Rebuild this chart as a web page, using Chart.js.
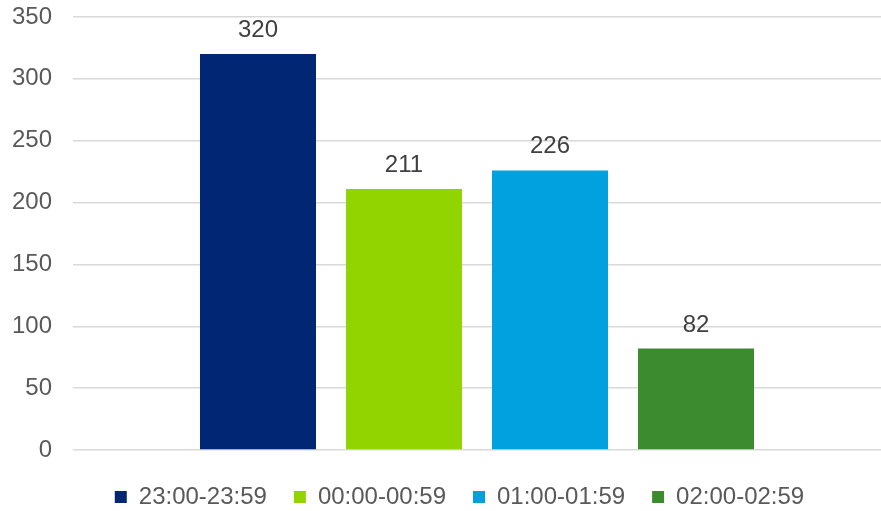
<!DOCTYPE html>
<html>
<head>
<meta charset="utf-8">
<script src="https://cdn.jsdelivr.net/npm/chart.js@4/dist/chart.umd.min.js"></script>
<style>
  body { margin: 0; background: #fff; }
  #wrap { width: 881px; height: 511px; }
</style>
</head>
<body>
<div id="wrap"><canvas id="barChart" width="881" height="511"></canvas></div>
<script>
// time slots and counts
var slots = ["23:00-23:59", "00:00-00:59", "01:00-01:59", "02:00-02:59"];
var counts = [320, 211, 226, 82];
var colors = ["#012774", "#92D400", "#00A1DE", "#3D8B2F"];
var yTicks = [0, 50, 100, 150, 200, 250, 300, 350];

var FONT = "'Liberation Sans', Arial, sans-serif";

// one dataset per slot, all in a single category
var datasets = slots.map(function (name, i) {
  return {
    label: name,
    data: [counts[i]],
    backgroundColor: colors[i],
    borderWidth: 0,
    categoryPercentage: 0.7228,
    barPercentage: 0.7945,
  };
});

// value above each bar
var valueLabels = {
  id: "valueLabels",
  afterDatasetsDraw: function (chart) {
    var ctx = chart.ctx;
    ctx.save();
    ctx.font = "24px " + FONT;
    ctx.fillStyle = "#404040";
    ctx.textAlign = "center";
    ctx.textBaseline = "alphabetic";
    chart.data.datasets.forEach(function (ds, i) {
      var meta = chart.getDatasetMeta(i);
      meta.data.forEach(function (bar, j) {
        ctx.fillText(ds.data[j], bar.x, bar.y - 17);
      });
    });
    ctx.restore();
  },
};

// nudge the legend row a little to the right
var legendShift = {
  id: "legendShift",
  afterLayout: function (chart) {
    if (chart.legend) {
      chart.legend.left += 19;
      chart.legend.right += 19;
    }
  },
};

var ctx = document.getElementById("barChart").getContext("2d");
var barChart = new Chart(ctx, {
  type: "bar",
  data: {
    labels: [""],
    datasets: datasets,
  },
  options: {
    responsive: false,
    animation: false,
    layout: {
      padding: { top: 17, left: 0, right: 0, bottom: -8 },
    },
    scales: {
      x: {
        grid: { display: false },
        border: { display: false },
        ticks: { display: false },
        afterFit: function (scale) {
          scale.height = 8;
        },
      },
      y: {
        min: 0,
        max: 350,
        afterBuildTicks: function (scale) {
          scale.ticks = yTicks.map(function (v) { return { value: v }; });
        },
        grid: { color: "#d9d9d9", lineWidth: 1.5, drawTicks: false },
        border: { display: false },
        ticks: {
          padding: 21,
          color: "#595959",
          font: { family: FONT, size: 24, lineHeight: 1 },
        },
        afterFit: function (scale) {
          scale.width = 73;
          scale.paddingTop = 0;
          scale.paddingBottom = 0;
        },
      },
    },
    plugins: {
      legend: {
        position: "bottom",
        labels: {
          boxWidth: 12,
          boxHeight: 12,
          padding: 27,
          color: "#595959",
          font: { family: FONT, size: 24 },
        },
      },
      tooltip: { enabled: false },
    },
  },
  plugins: [valueLabels, legendShift],
});
</script>
</body>
</html>
